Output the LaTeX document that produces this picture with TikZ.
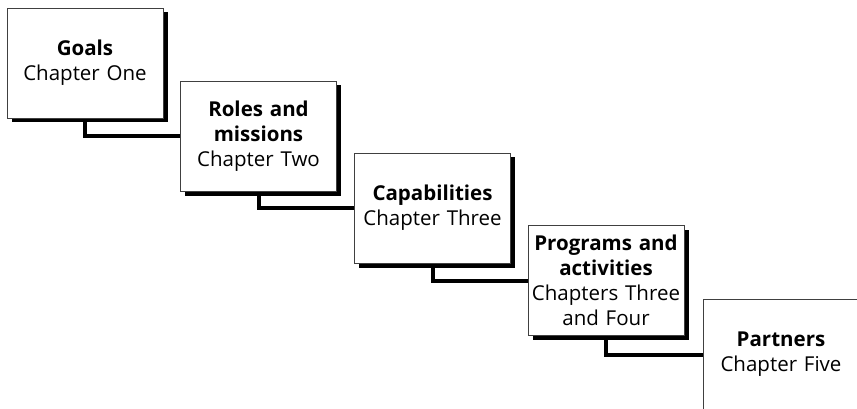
\documentclass[tikz,border=0pt]{standalone}
\usepackage{fontspec}
\setmainfont{Open Sans}
\usetikzlibrary{shadows}
\begin{document}
\begin{tikzpicture}[x=1pt,y=1pt,
  basebox/.style={draw=black!75, line width=0.8pt, fill=white,
    minimum width=156pt, minimum height=110pt, text width=156pt, align=center,
    inner sep=0pt, font=\fontsize{20.5}{25}\selectfont},
  stagebox/.style={basebox,
    drop shadow={shadow xshift=4.5pt, shadow yshift=-4.5pt, fill=black, opacity=1}},
  link/.style={line width=4pt, draw=black}]
\clip (0,0) rectangle (857,-409);
\node[stagebox] (b1) at (85,-63) {\textbf{Goals}\\Chapter One};
\node[stagebox] (b2) at (258.5,-136) {\textbf{Roles and}\\\textbf{missions}\\Chapter Two};
\node[stagebox] (b3) at (432.5,-208) {\textbf{Capabilities}\\Chapter Three};
\node[stagebox] (b4) at (606,-280.5) {\textbf{Programs and}\\\textbf{activities}\\Chapters Three\\and Four};
\node[basebox] (b5) at (781,-354.5) {\textbf{Partners}\\Chapter Five};
\draw[link] ([yshift=-4pt]b1.south) |- (b2.west);
\draw[link] ([yshift=-4pt]b2.south) |- (b3.west);
\draw[link] ([yshift=-4pt]b3.south) |- (b4.west);
\draw[link] ([yshift=-4pt]b4.south) |- (b5.west);
\end{tikzpicture}
\end{document}
